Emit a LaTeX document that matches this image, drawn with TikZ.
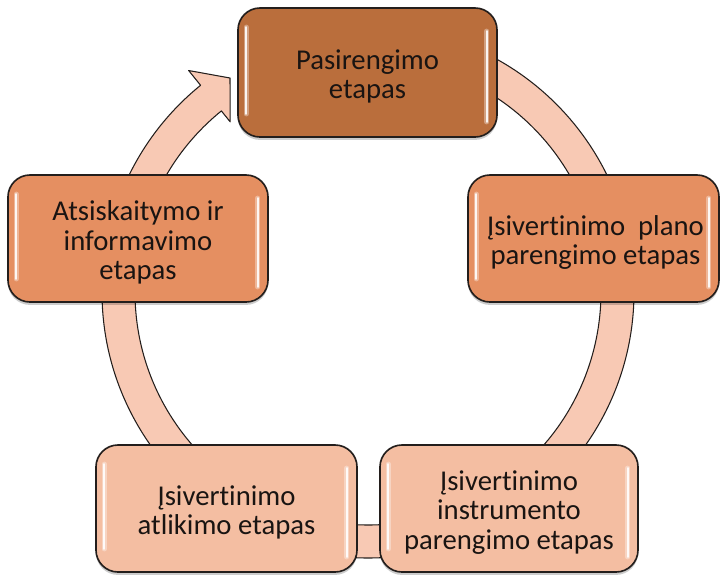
\documentclass[tikz,border=0pt]{standalone}
\usepackage{fontspec}
\setmainfont{Carlito}[Ligatures={NoCommon}]
\usetikzlibrary{shadows,calc}
\definecolor{bandc}{RGB}{248,201,180}
\definecolor{topc}{RGB}{186,110,60}
\definecolor{midc}{RGB}{229,143,97}
\definecolor{lowc}{RGB}{244,190,162}
\definecolor{edgec}{RGB}{35,30,28}
\definecolor{txtc}{RGB}{25,20,18}
\tikzset{
  stagebox/.style={draw=edgec, line width=1.4pt, rounded corners=0.66cm,
    inner sep=0pt,
    drop shadow={shadow xshift=0pt, shadow yshift=-2.5pt, opacity=0.2, fill=black}},
  stagetext/.style={align=center, text=txtc, inner sep=0pt,
    font=\fontsize{24.5pt}{25pt}\selectfont},
  glow/.style={white, line width=4.5pt, line cap=round, opacity=0.35},
  hl/.style={white, line width=2pt, line cap=round, opacity=0.9},
  bandstyle/.style={fill=bandc, draw=edgec, line width=0.9pt, line join=round}
}
\begin{document}
\begin{tikzpicture}[x=0.03cm,y=-0.03cm]
\useasboundingbox (0,0) rectangle (720,574);
\fill[white] (0,0) rectangle (720,574);
\coordinate (c) at (368,292);
\coordinate (tip) at (230,78);
% ring with arrow
\path[bandstyle] ($(c)+(-90:266)$) arc[start angle=-90,end angle=231,radius=266]
  -- ($(c)+(231:285)$) -- (tip) -- ($(c)+(231:219)$) -- ($(c)+(231:233)$)
  arc[start angle=231,end angle=-90,radius=233] -- cycle;
% boxes
\node[stagebox, fill=topc, minimum width=7.77cm, minimum height=3.87cm] (prep) at (367.5,72.5) {};
\node[stagebox, fill=midc, minimum width=7.53cm, minimum height=3.81cm] (plan) at (593.5,238.5) {};
\node[stagebox, fill=midc, minimum width=7.8cm, minimum height=3.81cm] (rep) at (138,238.5) {};
\node[stagebox, fill=lowc, minimum width=7.83cm, minimum height=3.81cm] (exec) at (226.5,508.5) {};
\node[stagebox, fill=lowc, minimum width=7.74cm, minimum height=3.81cm] (instr) at (509,508.5) {};
% highlights
\foreach \b in {prep,plan,rep,exec,instr}{
  \draw[glow] ($(\b.north west)+(9,20)$) -- ($(\b.south west)+(9,-24)$);
  \draw[hl] ($(\b.north west)+(9,20)$) -- ($(\b.south west)+(9,-24)$);
  \draw[glow] ($(\b.north east)+(-11,24)$) -- ($(\b.south east)+(-11,-16)$);
  \draw[hl] ($(\b.north east)+(-11,24)$) -- ($(\b.south east)+(-11,-16)$);
}
% texts
\node[stagetext] (prepT) at ($(prep.center)+(0,4)$) {Pasirengimo\\etapas};
\node[stagetext] (planT) at ($(plan.center)+(2,4)$) {Įsivertinimo\ \ plano\\parengimo etapas};
\node[stagetext] (repT) at ($(rep.center)+(0,4)$) {Atsiskaitymo ir\\informavimo\\etapas};
\node[stagetext] (execT) at ($(exec.center)+(0,4)$) {Įsivertinimo\\atlikimo etapas};
\node[stagetext] (instrT) at ($(instr.center)+(0,4)$) {Įsivertinimo\\instrumento\\parengimo etapas};
\end{tikzpicture}
\end{document}
